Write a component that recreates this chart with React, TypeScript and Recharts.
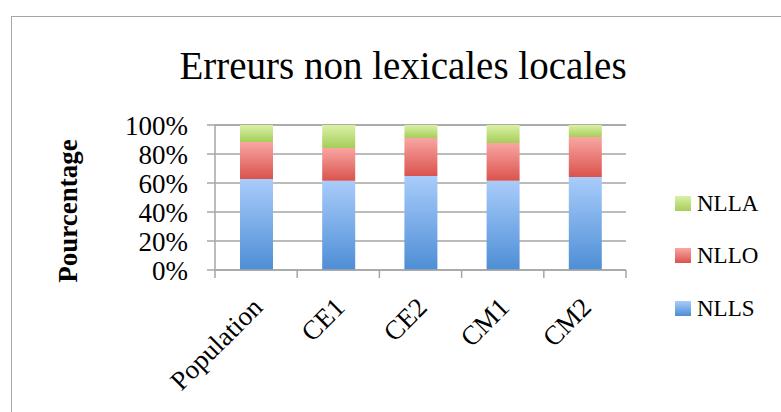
import React from 'react';
import { BarChart, Bar, XAxis, YAxis, CartesianGrid, Legend, Label } from 'recharts';

const categories = ['Population', 'CE1', 'CE2', 'CM1', 'CM2'];
const nllsValues = [62.8, 61.5, 64.9, 61.5, 64.2];
const nlloValues = [25.5, 22.7, 26.2, 26.1, 27.5];
const nllaValues = [11.7, 15.8, 8.9, 12.4, 8.3];
const yTicks = [0, 20, 40, 60, 80, 100];
const legendOrder = ['NLLA', 'NLLO', 'NLLS'];
const title = 'Erreurs non lexicales locales';
const yLabel = 'Pourcentage';

const seriesDefs = [
  { key: 'NLLS', grad: 'gradBlue', top: '#a9ccfb', bottom: '#4d8ed5' },
  { key: 'NLLO', grad: 'gradRed', top: '#f9a6a3', bottom: '#da534d' },
  { key: 'NLLA', grad: 'gradGreen', top: '#d9f1a6', bottom: '#a7cd59' },
];

const data = categories.map((c, i) => ({
  name: c,
  NLLS: nllsValues[i],
  NLLO: nlloValues[i],
  NLLA: nllaValues[i],
}));

const FONT = '"Liberation Serif", "Times New Roman", serif';
const GRID = '#a6a6a6';

const XTick = (props: any) => {
  const { x, y, payload, index, visibleTicksCount } = props;
  const half = payload && typeof payload.offset === 'number' && payload.offset > 0 ? payload.offset : 41;
  const y0 = y - 8;
  const ax = x + 8;
  const ay = y0 + 39;
  return (
    <g>
      <line x1={x - half} x2={x - half} y1={y0} y2={y0 + 8} stroke={GRID} strokeWidth={1.5} />
      {index === visibleTicksCount - 1 && (
        <line x1={x + half} x2={x + half} y1={y0} y2={y0 + 8} stroke={GRID} strokeWidth={1.5} />
      )}
      <text
        x={ax}
        y={ay}
        textAnchor="end"
        transform={`rotate(-45 ${ax} ${ay})`}
        fontFamily={FONT}
        fontSize={27}
        fill="#000"
      >
        {payload.value}
      </text>
    </g>
  );
};

const LegendContent = (props: any) => {
  const payload = props.payload || [];
  const items = legendOrder
    .map((k) => payload.find((p: any) => p.value === k || p.dataKey === k))
    .filter(Boolean);
  return (
    <div style={{ fontFamily: FONT }}>
      {items.map((it: any) => {
        const def = seriesDefs.find((s) => s.key === it.value);
        return (
          <div key={it.value} style={{ display: 'flex', alignItems: 'center', height: 52.5 }}>
            <svg width={16} height={15} style={{ marginRight: 6 }}>
              <rect width={16} height={15} fill={def ? `url(#${def.grad})` : it.color} />
            </svg>
            <span style={{ fontSize: 23, color: '#000', lineHeight: '23px' }}>{it.value}</span>
          </div>
        );
      })}
    </div>
  );
};

export default function App() {
  return (
    <div
      style={{
        position: 'fixed',
        left: 0,
        top: 0,
        width: 781,
        height: 412,
        overflow: 'hidden',
        background: '#fff',
      }}
    >
      <div
        style={{
          position: 'absolute',
          left: 11,
          top: 16,
          width: 900,
          height: 500,
          borderLeft: `1.5px solid ${GRID}`,
          borderTop: `1.5px solid ${GRID}`,
        }}
      />
      <div
        style={{
          position: 'absolute',
          left: 153,
          top: 46,
          width: 500,
          textAlign: 'center',
          fontFamily: FONT,
          fontSize: 39,
          lineHeight: '39px',
          color: '#000',
          whiteSpace: 'nowrap',
        }}
      >
        {title}
      </div>
      <div style={{ position: 'absolute', left: 0, top: 0 }}>
        <BarChart
          width={781}
          height={412}
          data={data}
          margin={{ top: 125, right: 155, bottom: 82, left: 135 }}
          barSize={33}
        >
          <defs>
            {seriesDefs.map((s) => (
              <linearGradient key={s.grad} id={s.grad} x1="0" y1="0" x2="0" y2="1">
                <stop offset="0%" stopColor={s.top} />
                <stop offset="100%" stopColor={s.bottom} />
              </linearGradient>
            ))}
          </defs>
          <CartesianGrid vertical={false} stroke={GRID} strokeWidth={1.5} />
          <XAxis
            dataKey="name"
            height={60}
            axisLine={{ stroke: GRID, strokeWidth: 1.5 }}
            tickLine={false}
            tickSize={8}
            tickMargin={0}
            interval={0}
            tick={<XTick />}
          />
          <YAxis
            width={80}
            domain={[0, 100]}
            ticks={yTicks}
            interval={0}
            tickFormatter={(v: number) => `${v}%`}
            axisLine={{ stroke: GRID, strokeWidth: 1.5 }}
            tickLine={{ stroke: GRID, strokeWidth: 1.5 }}
            tickSize={8}
            tickMargin={19}
            tick={{ fill: '#000', fontSize: 27, fontFamily: FONT }}
          >
            <Label
              content={() => (
                <text
                  x={77}
                  y={211}
                  transform="rotate(-90 77 211)"
                  textAnchor="middle"
                  fontFamily={FONT}
                  fontWeight="bold"
                  fontSize={27}
                  fill="#000"
                >
                  {yLabel}
                </text>
              )}
            />
          </YAxis>
          <Legend
            layout="horizontal"
            verticalAlign="middle"
            align="center"
            content={<LegendContent />}
            wrapperStyle={{ left: 675, top: 177, width: 100, height: 160 }}
          />
          {seriesDefs.map((s) => (
            <Bar
              key={s.key}
              dataKey={s.key}
              stackId="a"
              fill={`url(#${s.grad})`}
              isAnimationActive={false}
            />
          ))}
        </BarChart>
      </div>
    </div>
  );
}
